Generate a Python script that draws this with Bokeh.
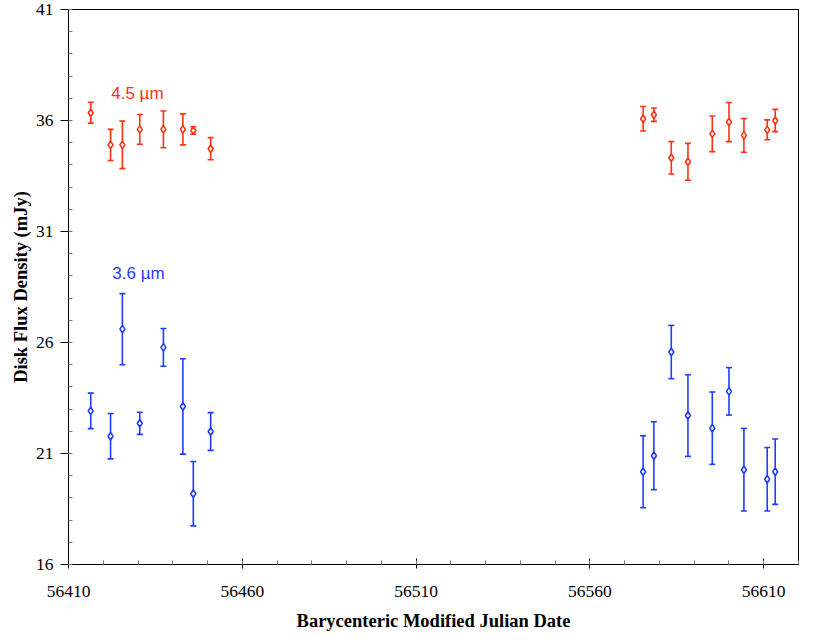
from bokeh.plotting import figure
from bokeh.models import ColumnDataSource, Whisker, TeeHead, FixedTicker, Label, Range1d
from bokeh.embed import file_html
from bokeh.resources import INLINE

# ---- data ----
mjd = [56416.4, 56422.1, 56425.5, 56430.5, 56437.3, 56442.9, 56445.9, 56450.9,
       56575.3, 56578.4, 56583.4, 56588.2, 56595.2, 56600.0, 56604.3, 56611.0, 56613.3]
flux45 = [36.35, 34.9, 34.9, 35.6, 35.6, 35.6, 35.55, 34.73,
          36.08, 36.26, 34.32, 34.14, 35.4, 35.93, 35.33, 35.58, 36.0]
err45 = [0.47, 0.7, 1.07, 0.67, 0.83, 0.7, 0.17, 0.5,
         0.55, 0.3, 0.73, 0.83, 0.8, 0.88, 0.76, 0.45, 0.5]
flux36 = [22.92, 21.78, 26.6, 22.36, 25.78, 23.12, 19.19, 21.99,
          20.18, 20.9, 25.57, 22.71, 22.14, 23.8, 20.27, 19.84, 20.18]
err36 = [0.8, 1.02, 1.6, 0.5, 0.85, 2.15, 1.45, 0.85,
         1.62, 1.53, 1.2, 1.84, 1.63, 1.07, 1.86, 1.43, 1.47]

x_ticks = [56410, 56460, 56510, 56560, 56610]
x_minor = list(range(56410, 56621, 10))
y_ticks = [16, 21, 26, 31, 36, 41]
y_minor = list(range(16, 42, 1))

RED = "#ff3314"
BLUE = "#1f3dff"

p = figure(width=814, height=633, output_backend="svg", toolbar_location=None,
           x_range=Range1d(56410, 56620), y_range=Range1d(16, 41),
           min_border_left=68, min_border_right=16, min_border_top=9, min_border_bottom=69)
p.grid.visible = False
p.outline_line_color = "black"
p.outline_line_width = 1
p.background_fill_color = "white"

for flux, err, col in [(flux45, err45, RED), (flux36, err36, BLUE)]:
    src = ColumnDataSource(dict(x=mjd, y=flux,
                                lo=[f - e for f, e in zip(flux, err)],
                                hi=[f + e for f, e in zip(flux, err)]))
    w = Whisker(source=src, base="x", lower="lo", upper="hi",
                line_color=col, line_width=1.6,
                upper_head=TeeHead(size=6, line_color=col, line_width=1.6),
                lower_head=TeeHead(size=6, line_color=col, line_width=1.6))
    p.add_layout(w)
    p.scatter("x", "y", source=src, marker="diamond", size=7.5, fill_color="white",
              line_color=col, line_width=1.6)

p.add_layout(Label(x=56422.3, y=37.2, text="4.5 \u00b5m", text_color=RED,
                   text_font="Liberation Sans", text_font_size="17px",
                   text_baseline="middle"))
p.add_layout(Label(x=56422.6, y=29.13, text="3.6 \u00b5m", text_color=BLUE,
                   text_font="Liberation Sans", text_font_size="17px",
                   text_baseline="middle"))

p.xaxis.ticker = FixedTicker(ticks=x_ticks, minor_ticks=x_minor)
p.yaxis.ticker = FixedTicker(ticks=y_ticks, minor_ticks=y_minor)

for ax in (p.xaxis, p.yaxis):
    ax.axis_line_color = "black"
    ax.major_tick_line_color = "black"
    ax.minor_tick_line_color = "#777777"
    ax.major_label_text_font = "Liberation Serif"
    ax.major_label_text_font_size = "17.5px"
    ax.major_label_text_color = "black"
    ax.axis_label_text_font = "Liberation Serif"
    ax.axis_label_text_font_style = "bold"
    ax.axis_label_text_color = "black"

p.xaxis.axis_label = "Barycenteric Modified Julian Date"
p.yaxis.axis_label = "Disk Flux Density (mJy)"
p.xaxis.axis_label_text_font_size = "18.5px"
p.yaxis.axis_label_text_font_size = "18.5px"
p.xaxis.major_tick_in = 6
p.xaxis.major_tick_out = 4
p.xaxis.minor_tick_in = 4
p.xaxis.minor_tick_out = 0
p.xaxis.major_label_standoff = 17
p.xaxis.axis_label_standoff = 11
p.yaxis.major_tick_in = 0
p.yaxis.major_tick_out = 8
p.yaxis.minor_tick_in = 4
p.yaxis.minor_tick_out = 0
p.yaxis.major_label_standoff = 7
p.yaxis.axis_label_standoff = 2

open("out.html", "w").write(file_html(p, INLINE))
